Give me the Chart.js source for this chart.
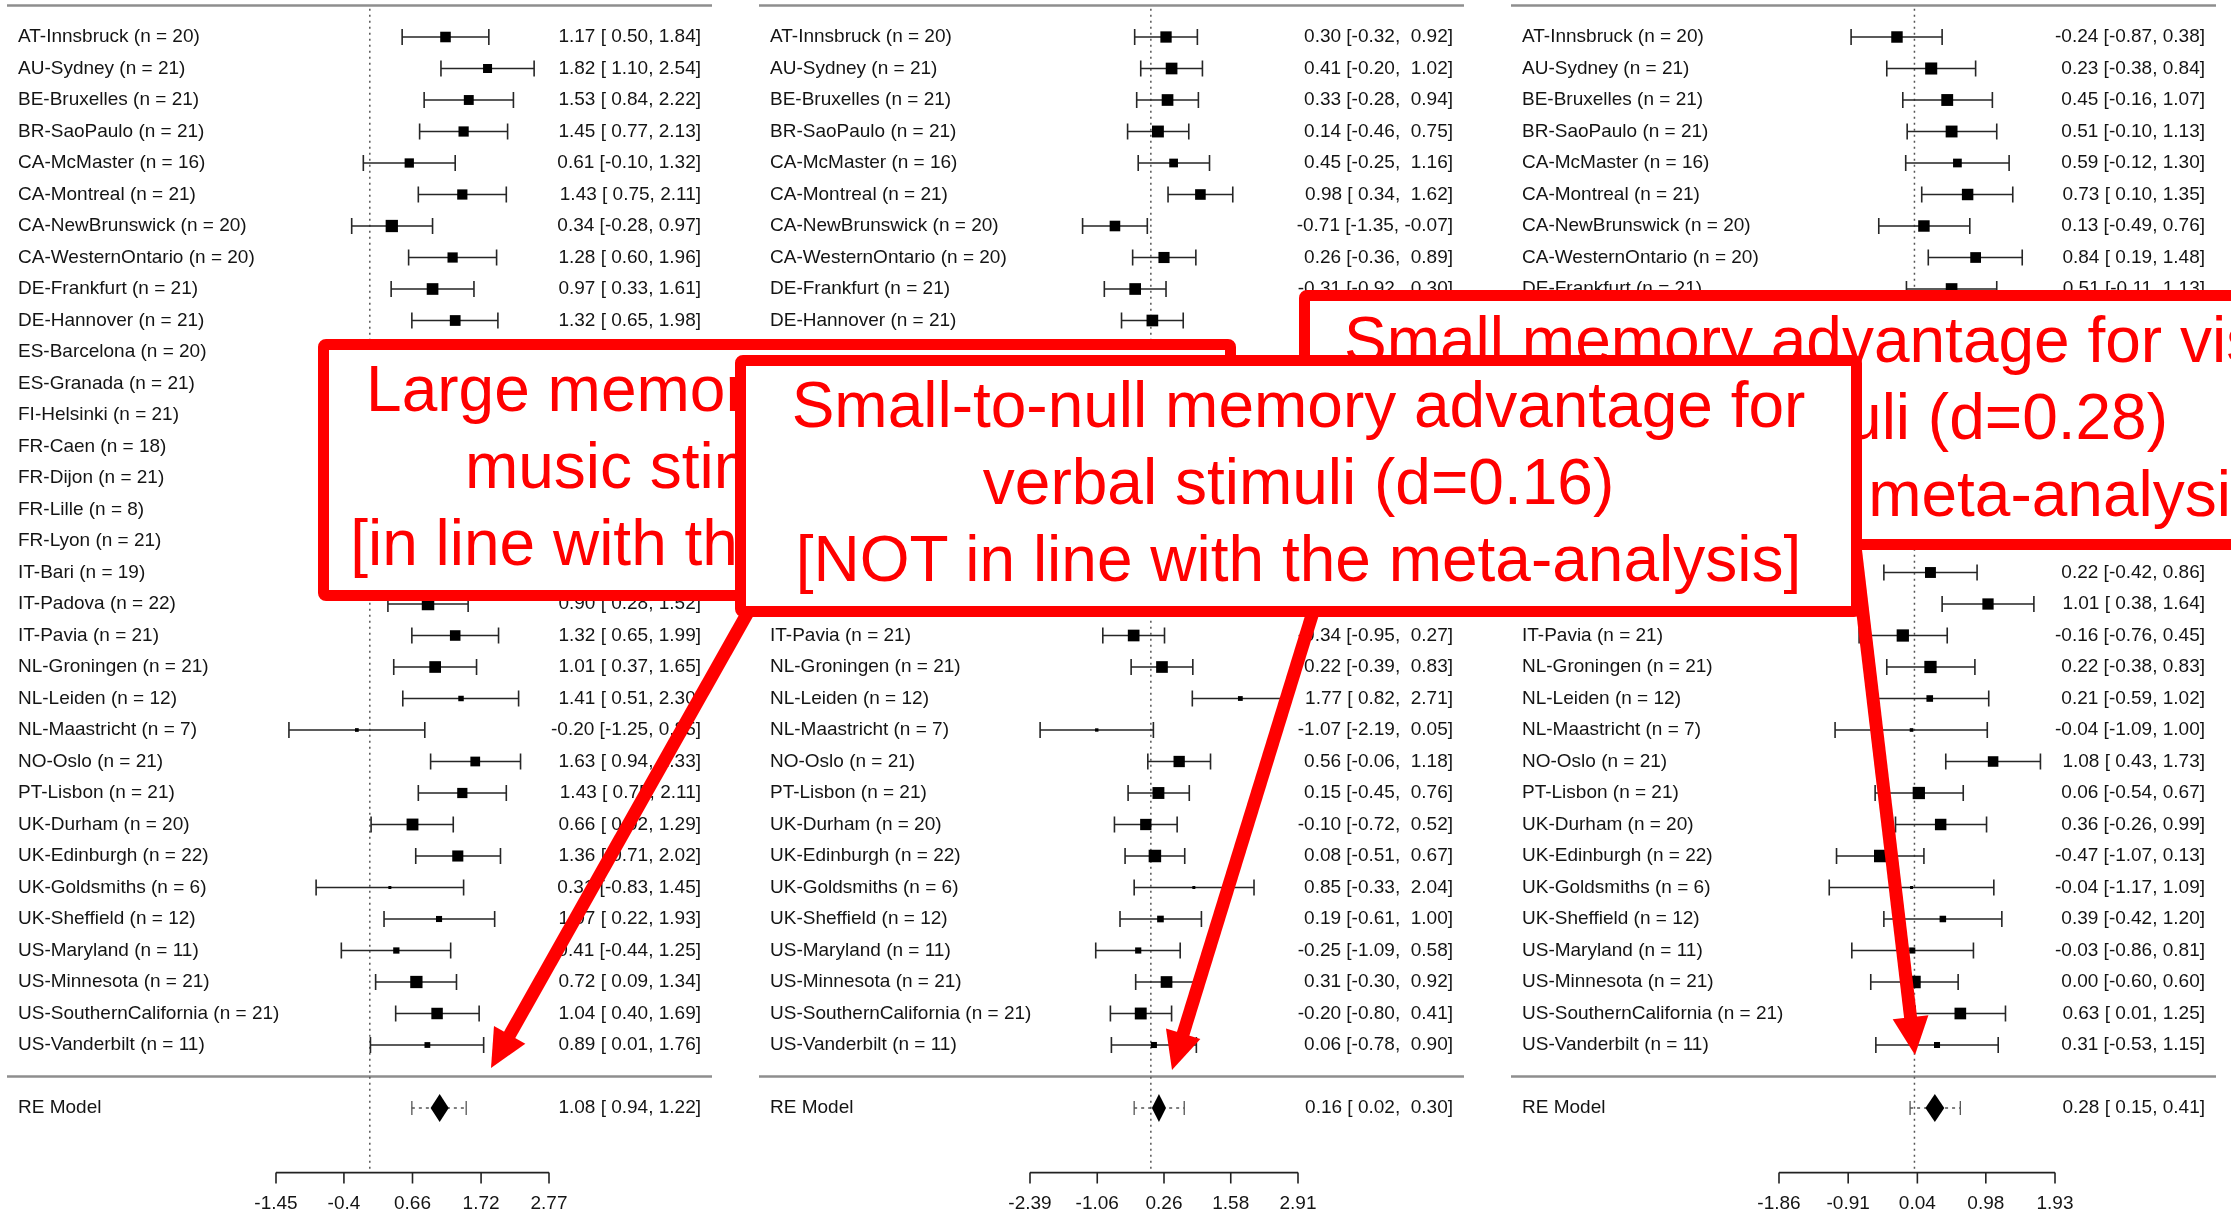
<!DOCTYPE html>
<html>
<head>
<meta charset="utf-8">
<script src="https://cdn.jsdelivr.net/npm/chart.js@4.4.0/dist/chart.umd.min.js"></script>
<style>
body { margin: 0; width: 2231px; height: 1215px; overflow: hidden; background: #fff; position: relative; font-family: "Liberation Sans", Arial, sans-serif; }
canvas.panel { position: absolute; top: 0; z-index: 0; }
.note { position: absolute; box-sizing: border-box; border: 11px solid #ff0000; border-radius: 8px; background: #fff; overflow: hidden; }
.note div { position: absolute; white-space: nowrap; font-size: 64px; line-height: 77px; color: #ff0000; }
#arrows { position: absolute; left: 0; top: 0; z-index: 3; }
</style>
</head>
<body>
<canvas class="panel" id="chart0" width="740" height="1215" style="left:0px"></canvas>
<canvas class="panel" id="chart1" width="740" height="1215" style="left:752px"></canvas>
<canvas class="panel" id="chart2" width="740" height="1215" style="left:1504px"></canvas>

<div class="note" style="left:1299px;top:290px;width:1100px;height:260px;z-index:1">
  <div style="left:34px;top:1px">Small memory advantage for visual</div>
  <div style="right:220px;top:78px">stimuli (d=0.28)</div>
  <div style="left:117px;top:155px">[in line with the meta-analysis]</div>
</div>
<div class="note" style="left:318px;top:339px;width:918px;height:262px;z-index:2">
  <div style="left:0;right:0;top:1px;text-align:center">Large memory advantage for<br>music stimuli (d=1.08)<br>[in line with the meta-analysis]</div>
</div>
<svg id="arrows" width="2231" height="1215"></svg>
<div class="note" style="left:735px;top:355px;width:1127px;height:262px;z-index:4">
  <div style="left:0;right:0;top:1px;text-align:center">Small-to-null memory advantage for<br>verbal stimuli (d=0.16)<br>[NOT in line with the meta-analysis]</div>
</div>

<script>
// study rows (same sites in every panel)
const sites = ["AT-Innsbruck (n = 20)", "AU-Sydney (n = 21)", "BE-Bruxelles (n = 21)", "BR-SaoPaulo (n = 21)",
  "CA-McMaster (n = 16)", "CA-Montreal (n = 21)", "CA-NewBrunswick (n = 20)", "CA-WesternOntario (n = 20)",
  "DE-Frankfurt (n = 21)", "DE-Hannover (n = 21)", "ES-Barcelona (n = 20)", "ES-Granada (n = 21)",
  "FI-Helsinki (n = 21)", "FR-Caen (n = 18)", "FR-Dijon (n = 21)", "FR-Lille (n = 8)", "FR-Lyon (n = 21)",
  "IT-Bari (n = 19)", "IT-Padova (n = 22)", "IT-Pavia (n = 21)", "NL-Groningen (n = 21)", "NL-Leiden (n = 12)",
  "NL-Maastricht (n = 7)", "NO-Oslo (n = 21)", "PT-Lisbon (n = 21)", "UK-Durham (n = 20)", "UK-Edinburgh (n = 22)",
  "UK-Goldsmiths (n = 6)", "UK-Sheffield (n = 12)", "US-Maryland (n = 11)", "US-Minnesota (n = 21)",
  "US-SouthernCalifornia (n = 21)", "US-Vanderbilt (n = 11)"];

// music
const musicEst = [1.17, 1.82, 1.53, 1.45, 0.61, 1.43, 0.34, 1.28, 0.97, 1.32, 1.21, 0.94, 1.15, 0.88, 1.05, 0.72, 1.26,
  1.10, 0.90, 1.32, 1.01, 1.41, -0.20, 1.63, 1.43, 0.66, 1.36, 0.31, 1.07, 0.41, 0.72, 1.04, 0.89];
const musicLo = [0.50, 1.10, 0.84, 0.77, -0.10, 0.75, -0.28, 0.60, 0.33, 0.65, 0.54, 0.30, 0.50, 0.20, 0.41, -0.29, 0.60,
  0.42, 0.28, 0.65, 0.37, 0.51, -1.25, 0.94, 0.75, 0.02, 0.71, -0.83, 0.22, -0.44, 0.09, 0.40, 0.01];
const musicHi = [1.84, 2.54, 2.22, 2.13, 1.32, 2.11, 0.97, 1.96, 1.61, 1.98, 1.88, 1.58, 1.80, 1.56, 1.69, 1.73, 1.92,
  1.78, 1.52, 1.99, 1.65, 2.30, 0.85, 2.33, 2.11, 1.29, 2.02, 1.45, 1.93, 1.25, 1.34, 1.69, 1.76];

// verbal
const verbalEst = [0.30, 0.41, 0.33, 0.14, 0.45, 0.98, -0.71, 0.26, -0.31, 0.03, 0.12, 0.05, 0.21, -0.05, 0.38, 0.10, 0.17,
  0.24, 0.09, -0.34, 0.22, 1.77, -1.07, 0.56, 0.15, -0.10, 0.08, 0.85, 0.19, -0.25, 0.31, -0.20, 0.06];
const verbalLo = [-0.32, -0.20, -0.28, -0.46, -0.25, 0.34, -1.35, -0.36, -0.92, -0.58, -0.50, -0.56, -0.40, -0.70, -0.23, -0.88, -0.44,
  -0.40, -0.50, -0.95, -0.39, 0.82, -2.19, -0.06, -0.45, -0.72, -0.51, -0.33, -0.61, -1.09, -0.30, -0.80, -0.78];
const verbalHi = [0.92, 1.02, 0.94, 0.75, 1.16, 1.62, -0.07, 0.89, 0.30, 0.64, 0.74, 0.66, 0.82, 0.60, 0.99, 1.08, 0.78,
  0.88, 0.68, 0.27, 0.83, 2.71, 0.05, 1.18, 0.76, 0.52, 0.67, 2.04, 1.00, 0.58, 0.92, 0.41, 0.90];

// visual
const visualEst = [-0.24, 0.23, 0.45, 0.51, 0.59, 0.73, 0.13, 0.84, 0.51, 0.35, 0.18, 0.40, 0.27, 0.12, 0.48, 0.30, 0.15,
  0.22, 1.01, -0.16, 0.22, 0.21, -0.04, 1.08, 0.06, 0.36, -0.47, -0.04, 0.39, -0.03, 0.00, 0.63, 0.31];
const visualLo = [-0.87, -0.38, -0.16, -0.10, -0.12, 0.10, -0.49, 0.19, -0.11, -0.26, -0.44, -0.21, -0.34, -0.53, -0.14, -0.69, -0.46,
  -0.42, 0.38, -0.76, -0.38, -0.59, -1.09, 0.43, -0.54, -0.26, -1.07, -1.17, -0.42, -0.86, -0.60, 0.01, -0.53];
const visualHi = [0.38, 0.84, 1.07, 1.13, 1.30, 1.35, 0.76, 1.48, 1.13, 0.96, 0.80, 1.01, 0.88, 0.77, 1.10, 1.29, 0.76,
  0.86, 1.64, 0.45, 0.83, 1.02, 1.00, 1.73, 0.67, 0.99, 0.13, 1.09, 1.20, 0.81, 0.60, 1.25, 1.15];

// RE model summary per panel (music, verbal, visual)
const reEst = [1.08, 0.16, 0.28];
const reLo = [0.94, 0.02, 0.15];
const reHi = [1.22, 0.30, 0.41];
const piLo = [0.65, -0.33, -0.06];
const piHi = [1.49, 0.66, 0.63];

const axisTicks = [
  [-1.45, -0.4, 0.66, 1.72, 2.77],
  [-2.39, -1.06, 0.26, 1.58, 2.91],
  [-1.86, -0.91, 0.04, 0.98, 1.93],
];

// layout
const axisPx = [[276, 549], [278, 546], [275, 551]];
const W = 740, H = 1215;
const rowTop = 37, rowStep = 31.5;
const reRow = 34, sepRow = 33, axisRow = 36.05;
const textFont = '19px "Liberation Sans", Arial, sans-serif';

function fmt(v, w) {
  return v.toFixed(2).padStart(w, ' ');
}

function squareSides(lo, hi) {
  const w = lo.map((l, i) => 1 / Math.pow((hi[i] - l) / 3.92, 2));
  const mn = Math.min(...w), mx = Math.max(...w);
  return w.map(v => 3 + 9.5 * (v - mn) / (mx - mn));
}

const forestPlugin = {
  id: 'forest',
  beforeDatasetsDraw(chart, args, o) {
    const ctx = chart.ctx, xs = chart.scales.x, ys = chart.scales.y;
    const row = r => ys.getPixelForValue(r);
    const px = v => xs.getPixelForValue(v);
    ctx.save();

    // rules
    ctx.strokeStyle = '#8e8e8e';
    ctx.lineWidth = 2.5;
    for (const r of [-1, sepRow]) {
      ctx.beginPath(); ctx.moveTo(7, row(r)); ctx.lineTo(712, row(r)); ctx.stroke();
    }

    // zero line
    ctx.strokeStyle = '#555';
    ctx.lineWidth = 1.5;
    ctx.setLineDash([2, 4]);
    ctx.beginPath(); ctx.moveTo(px(0), row(-0.9)); ctx.lineTo(px(0), row(axisRow)); ctx.stroke();
    ctx.setLineDash([]);

    // confidence intervals
    ctx.strokeStyle = '#262626';
    ctx.lineWidth = 1.6;
    o.lo.forEach((lo, i) => {
      const y = row(i), a = px(lo), b = px(o.hi[i]);
      ctx.beginPath();
      ctx.moveTo(a, y); ctx.lineTo(b, y);
      ctx.moveTo(a, y - 8); ctx.lineTo(a, y + 8);
      ctx.moveTo(b, y - 8); ctx.lineTo(b, y + 8);
      ctx.stroke();
    });

    // prediction interval + diamond
    const ry = row(reRow);
    ctx.strokeStyle = '#555';
    ctx.lineWidth = 1.3;
    ctx.setLineDash([3, 4]);
    ctx.beginPath(); ctx.moveTo(px(o.piLo), ry); ctx.lineTo(px(o.piHi), ry); ctx.stroke();
    ctx.setLineDash([]);
    ctx.beginPath();
    ctx.moveTo(px(o.piLo), ry - 7); ctx.lineTo(px(o.piLo), ry + 7);
    ctx.moveTo(px(o.piHi), ry - 7); ctx.lineTo(px(o.piHi), ry + 7);
    ctx.stroke();
    ctx.fillStyle = '#000';
    ctx.beginPath();
    ctx.moveTo(px(o.reLo), ry);
    ctx.lineTo(px(o.reEst), ry - 14);
    ctx.lineTo(px(o.reHi), ry);
    ctx.lineTo(px(o.reEst), ry + 14);
    ctx.closePath();
    ctx.fill();

    // text columns
    const loW = Math.max(...o.lo.concat([o.reLo]).map(v => v.toFixed(2).length));
    const hiW = Math.max(...o.hi.concat([o.reHi]).map(v => v.toFixed(2).length));
    const val = (e, l, h) => e.toFixed(2) + ' [' + fmt(l, loW) + ', ' + fmt(h, hiW) + ']';
    ctx.font = textFont;
    ctx.fillStyle = '#141414';
    ctx.textBaseline = 'middle';
    sites.forEach((s, i) => {
      ctx.textAlign = 'left';
      ctx.fillText(s, 18, row(i));
      ctx.textAlign = 'right';
      ctx.fillText(val(o.est[i], o.lo[i], o.hi[i]), 701, row(i));
    });
    ctx.textAlign = 'left';
    ctx.fillText('RE Model', 18, ry);
    ctx.textAlign = 'right';
    ctx.fillText(val(o.reEst, o.reLo, o.reHi), 701, ry);

    // x axis
    const ay = row(axisRow);
    const t = o.ticks;
    ctx.strokeStyle = '#222';
    ctx.lineWidth = 1.6;
    ctx.beginPath();
    ctx.moveTo(px(t[0]), ay); ctx.lineTo(px(t[t.length - 1]), ay);
    t.forEach(v => { ctx.moveTo(px(v), ay); ctx.lineTo(px(v), ay + 11); });
    ctx.stroke();
    ctx.textAlign = 'center';
    t.forEach(v => ctx.fillText(String(v), px(v), ay + 31));
    ctx.restore();
  }
};

function makePanel(idx, est, lo, hi) {
  const t = axisTicks[idx];
  const span = (t[t.length - 1] - t[0]) / (axisPx[idx][1] - axisPx[idx][0]);
  const xMin = t[0] - axisPx[idx][0] * span;
  const yMin = -rowTop / rowStep;
  const sides = squareSides(lo, hi);
  const ctx = document.getElementById('chart' + idx).getContext('2d');
  return new Chart(ctx, {
    type: 'scatter',
    data: {
      datasets: [{
        data: est.map((v, i) => ({ x: v, y: i })),
        pointStyle: 'rect',
        pointRadius: sides.map(s => s / Math.SQRT2),
        backgroundColor: '#000',
        borderWidth: 0,
      }],
    },
    options: {
      responsive: false,
      animation: false,
      devicePixelRatio: 1,
      events: [],
      layout: { padding: 0, autoPadding: false },
      scales: {
        x: { type: 'linear', display: false, min: xMin, max: xMin + W * span },
        y: { type: 'linear', display: false, reverse: true, min: yMin, max: yMin + H / rowStep },
      },
      plugins: {
        legend: { display: false },
        tooltip: { enabled: false },
        forest: {
          est: est, lo: lo, hi: hi, ticks: t,
          reEst: reEst[idx], reLo: reLo[idx], reHi: reHi[idx], piLo: piLo[idx], piHi: piHi[idx],
        },
      },
    },
    plugins: [forestPlugin],
  });
}

window.charts = [
  makePanel(0, musicEst, musicLo, musicHi),
  makePanel(1, verbalEst, verbalLo, verbalHi),
  makePanel(2, visualEst, visualLo, visualHi),
];

// red arrows from the note boxes
const arrowLines = [[756, 598, 491, 1068], [1313, 612, 1172, 1070], [1855, 546, 1915, 1055]];
const svg = document.getElementById('arrows');
const NS = 'http://www.w3.org/2000/svg';
arrowLines.forEach(([x1, y1, x2, y2]) => {
  const len = Math.hypot(x2 - x1, y2 - y1);
  const ux = (x2 - x1) / len, uy = (y2 - y1) / len;
  const headL = 38, headW = 18;
  const bx = x2 - ux * headL, by = y2 - uy * headL;
  const line = document.createElementNS(NS, 'line');
  line.setAttribute('x1', x1); line.setAttribute('y1', y1);
  line.setAttribute('x2', bx + ux * 2); line.setAttribute('y2', by + uy * 2);
  line.setAttribute('stroke', '#ff0000'); line.setAttribute('stroke-width', 13);
  svg.appendChild(line);
  const head = document.createElementNS(NS, 'polygon');
  head.setAttribute('points', [
    [x2, y2], [bx - uy * headW, by + ux * headW], [bx + uy * headW, by - ux * headW]
  ].map(p => p.join(',')).join(' '));
  head.setAttribute('fill', '#ff0000');
  svg.appendChild(head);
});
</script>
</body>
</html>
